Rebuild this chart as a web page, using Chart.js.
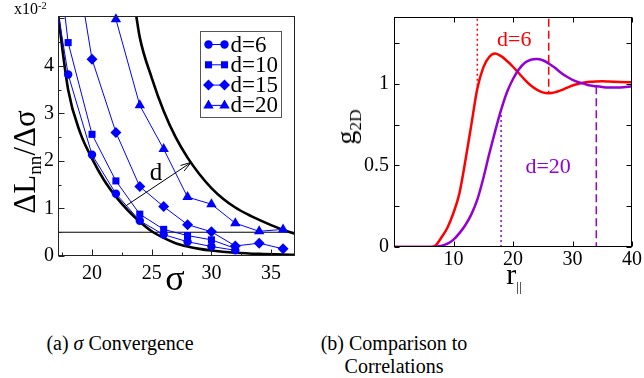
<!DOCTYPE html>
<html>
<head>
<meta charset="utf-8">
<script src="https://cdn.jsdelivr.net/npm/chart.js@4.4.1/dist/chart.umd.min.js"></script>
<style>
  body { margin: 0; background: #fff; }
  #wrap { position: relative; width: 644px; height: 378px; overflow: hidden;
          font-family: "Liberation Serif", "Times New Roman", "DejaVu Serif", serif; color: #000; }
  canvas { position: absolute; top: 0; }
  .lbl { position: absolute; white-space: nowrap; line-height: 1; }
  .rot { transform: translate(-50%, -50%) rotate(-90deg); }
  .ctr { transform: translate(-50%, -50%); }
  .lbl sub { font-size: 0.62em; position: relative; top: 0.32em; vertical-align: baseline; }
  .lbl sup { font-size: 0.65em; position: relative; top: -0.45em; vertical-align: baseline; }
  .cap { position: absolute; font-size: 20px; line-height: 23px; text-align: center; }
</style>
</head>
<body>
<div id="wrap">
  <canvas id="conv" width="320" height="300" style="left:0"></canvas>
  <canvas id="corr" width="324" height="300" style="left:320px"></canvas>

  <div class="lbl rot" style="left:24px;top:162px;font-size:31px">ΔL<sub>nn</sub>/Δσ</div>
  <div class="lbl" style="left:14px;top:1px;font-size:16px">x10<sup>-2</sup></div>
  <div class="lbl ctr" style="left:175px;top:278px;font-size:36px">σ</div>

  <div class="lbl rot" style="left:346px;top:127px;font-size:28px">g<sub>2D</sub></div>
  <div class="lbl ctr" style="left:514px;top:274px;font-size:30px">r<sub style="font-size:0.45em;top:0.5em">||</sub></div>

  <div class="cap" style="left:0px;top:332px;width:240px">(a) <i>σ</i> Convergence</div>
  <div class="cap" style="left:274px;top:332px;width:240px">(b) Comparison to<br>Correlations</div>
</div>

<script>
// ---- (a) sigma convergence -------------------------------------------------
const sigmaD6 = [16, 18, 20, 22, 24, 26, 28, 30, 32];
const convD6 = [6.9, 3.82, 2.13, 1.31, 0.74, 0.45, 0.3, 0.2, 0.12];
const sigmaD10 = [16, 18, 20, 22, 24, 26, 28, 30, 32];
const convD10 = [8.8, 4.49, 2.56, 1.58, 0.88, 0.56, 0.43, 0.34, 0.16];
const sigmaD15 = [18, 20, 22, 24, 26, 28, 30, 32, 34, 36];
const convD15 = [7.2, 4.14, 2.6, 1.46, 1.04, 0.66, 0.51, 0.21, 0.27, 0.15];
const sigmaD20 = [22, 24, 26, 28, 30, 32, 34, 36];
const convD20 = [4.98, 3.17, 2.25, 1.24, 1.09, 0.69, 0.52, 0.56];

// black envelope curves
const lowerSigma = [17, 18, 19, 20, 21, 22, 23, 24, 25, 26, 27, 28, 29, 30, 32, 34, 37];
const lowerConv = [5.4, 3.5, 2.6, 2.05, 1.6, 1.25, 0.96, 0.72, 0.52, 0.38, 0.27, 0.2, 0.15, 0.115, 0.07, 0.045, 0.025];
const upperSigma = [23.5, 24, 25, 26, 27, 28, 29, 30, 31, 32, 33, 34, 35, 36, 37];
const upperConv = [5.4, 4.6, 3.75, 3.05, 2.5, 2.07, 1.72, 1.43, 1.2, 1.02, 0.88, 0.76, 0.65, 0.55, 0.47];
const threshold = 0.5;
const arrowFrom = [22.8, 1.05];
const arrowTo = [28.3, 1.97];
const arrowLabel = { text: "d", x: 25.35, y: 1.74 };

const convXRange = [17.15, 37];
const convYRange = [0, 5.05];
const convXTicks = [20, 25, 30, 35];
const convXMinor = [17.5, 22.5, 27.5, 32.5];
const convYTicks = [0, 1, 2, 3, 4];
const convYMinor = [0.5, 1.5, 2.5, 3.5, 4.5];
const legendLabels = ["d=6", "d=10", "d=15", "d=20"];

// ---- (b) correlations ------------------------------------------------------
const rGrid = [0, 2, 4, 6, 7, 8, 9, 10, 11, 12, 13, 14, 15, 16, 17, 18, 19, 20, 21, 22, 23,
  24, 25, 26, 27, 28, 29, 30, 31, 32, 33, 34, 35, 36, 38, 40];
const gD6 = [0, 0, 0, 0, 0.01, 0.06, 0.12, 0.21, 0.33, 0.53, 0.75, 0.97, 1.1, 1.165, 1.186,
  1.17, 1.14, 1.105, 1.065, 1.025, 0.99, 0.965, 0.948, 0.943, 0.948, 0.96, 0.975, 0.99, 1.0,
  1.008, 1.013, 1.015, 1.016, 1.015, 1.012, 1.01];
const gD20 = [0, 0, 0, 0, 0.002, 0.008, 0.02, 0.045, 0.085, 0.135, 0.2, 0.29, 0.42, 0.57,
  0.71, 0.84, 0.95, 1.03, 1.09, 1.13, 1.148, 1.153, 1.145, 1.125, 1.1, 1.07, 1.045, 1.025,
  1.01, 1.0, 0.99, 0.985, 0.981, 0.978, 0.978, 0.985];
// vertical markers: [r, from, to]
const d6Dotted = [14, 1.4, 0.97];
const d6Dashed = [26, 1.4, 0.943];
const d20Dotted = [18, 0.84, 0];
const d20Dashed = [34, 0.985, 0];
const corrLabels = [
  { text: "d=6", x: 20.2, y: 1.265, color: "#ff0000" },
  { text: "d=20", x: 25.9, y: 0.49, color: "#9400d3" },
];
const corrXRange = [0, 40];
const corrYRange = [0, 1.41];
const corrXTicks = [10, 20, 30, 40];
const corrYTicks = [0, 0.5, 1];
const corrYMinor = [0.25, 0.75, 1.25];

const BLUE = "#0000ff", RED = "#ff0000", PURPLE = "#9400d3";
const SERIF = "'Liberation Serif', 'Times New Roman', 'DejaVu Serif', serif";

const pts = (xs, ys) => xs.map((x, i) => ({ x, y: ys[i] }));
const vline = (m) => [{ x: m[0], y: m[1] }, { x: m[0], y: m[2] }];

// inward ticks + frame
const frame = {
  id: "frame",
  afterDatasetsDraw(chart, args, o) {
    const { ctx, chartArea: a, scales: { x, y } } = chart;
    ctx.save();
    ctx.strokeStyle = o.color || "#000";
    ctx.lineWidth = 1;
    const l = Math.round(a.left) + 0.5, r = Math.round(a.right) - 0.5;
    const t = Math.round(a.top) + 0.5, b = Math.round(a.bottom) - 0.5;
    ctx.beginPath();
    const xt = (v, len) => {
      const px = Math.round(x.getPixelForValue(v)) + 0.5;
      ctx.moveTo(px, b); ctx.lineTo(px, b - len);
      if (o.mirror) { ctx.moveTo(px, t); ctx.lineTo(px, t + len); }
    };
    const yt = (v, len) => {
      const py = Math.round(y.getPixelForValue(v)) + 0.5;
      ctx.moveTo(l, py); ctx.lineTo(l + len, py);
      if (o.mirror) { ctx.moveTo(r, py); ctx.lineTo(r - len, py); }
    };
    o.xMajor.forEach((v) => xt(v, o.major));
    (o.xMinor || []).forEach((v) => xt(v, o.minor));
    o.yMajor.forEach((v) => yt(v, o.major));
    (o.yMinor || []).forEach((v) => yt(v, o.minor));
    ctx.stroke();
    ctx.strokeRect(l, t, r - l, b - t);
    ctx.restore();
  },
};

function fixedAxes(xr, yr, xt, yt, yw, xh, pad) {
  return {
    x: {
      type: "linear", min: xr[0], max: xr[1],
      grid: { display: false, drawTicks: false }, border: { display: false },
      afterBuildTicks: (s) => { s.ticks = xt.map((v) => ({ value: v })); },
      afterFit: (s) => { s.height = xh; },
      ticks: { color: "#000", padding: pad.x, maxRotation: 0, font: { family: SERIF, size: 20 },
               callback: (v) => String(v) },
    },
    y: {
      type: "linear", min: yr[0], max: yr[1],
      grid: { display: false, drawTicks: false }, border: { display: false },
      afterBuildTicks: (s) => { s.ticks = yt.map((v) => ({ value: v })); },
      afterFit: (s) => { s.width = yw; },
      ticks: { color: "#000", padding: pad.y, font: { family: SERIF, size: 20 },
               callback: (v) => String(v) },
    },
  };
}

// ---- chart (a)
const markerStyles = ["circle", "rect", "rectRot", "triangle"];
const markerSizes = [4.2, 5, 5.5, 6];
const series = [
  [sigmaD6, convD6], [sigmaD10, convD10], [sigmaD15, convD15], [sigmaD20, convD20],
];

const convDecor = {
  id: "convDecor",
  afterDatasetsDraw(chart) {
    const { ctx, chartArea: a, scales: { x, y } } = chart;
    ctx.save();
    // arrow
    const x0 = x.getPixelForValue(arrowFrom[0]), y0 = y.getPixelForValue(arrowFrom[1]);
    const x1 = x.getPixelForValue(arrowTo[0]), y1 = y.getPixelForValue(arrowTo[1]);
    const ang = Math.atan2(y1 - y0, x1 - x0);
    ctx.strokeStyle = "#000";
    ctx.lineWidth = 1;
    ctx.beginPath();
    ctx.moveTo(x0, y0); ctx.lineTo(x1, y1);
    ctx.moveTo(x1 - 11 * Math.cos(ang - 0.3), y1 - 11 * Math.sin(ang - 0.3));
    ctx.lineTo(x1, y1);
    ctx.lineTo(x1 - 11 * Math.cos(ang + 0.3), y1 - 11 * Math.sin(ang + 0.3));
    ctx.stroke();
    ctx.fillStyle = "#000";
    ctx.font = "25px " + SERIF;
    ctx.textAlign = "center";
    ctx.textBaseline = "middle";
    ctx.fillText(arrowLabel.text, x.getPixelForValue(arrowLabel.x), y.getPixelForValue(arrowLabel.y));

    // legend box
    const bl = Math.round(a.right - 95) + 0.5, bt = Math.round(a.top + 15) + 0.5;
    ctx.fillStyle = "#fff";
    ctx.fillRect(bl, bt, 81, 86);
    ctx.strokeStyle = "#555";
    ctx.strokeRect(bl, bt, 81, 86);
    ctx.font = "23px " + SERIF;
    ctx.textAlign = "left";
    legendLabels.forEach((txt, i) => {
      const ry = bt + 13 + i * 20.3;
      ctx.strokeStyle = BLUE; ctx.fillStyle = BLUE; ctx.lineWidth = 1;
      ctx.beginPath(); ctx.moveTo(bl + 8, ry); ctx.lineTo(bl + 24, ry); ctx.stroke();
      [bl + 8, bl + 24].forEach((mx) => {
        Chart.helpers.drawPoint(ctx, { pointStyle: markerStyles[i], radius: markerSizes[i], rotation: 0, borderWidth: 0 }, mx, ry);
      });
      ctx.fillStyle = "#000";
      ctx.fillText(txt, bl + 30, ry + 1);
    });
    ctx.restore();
  },
};

new Chart(document.getElementById("conv"), {
  type: "line",
  data: {
    datasets: [
      ...series.map((s, i) => ({
        data: pts(s[0], s[1]),
        borderColor: BLUE, backgroundColor: BLUE, borderWidth: 1,
        pointStyle: markerStyles[i], pointRadius: markerSizes[i], pointBorderWidth: 0,
        tension: 0,
        clip: i === 3 ? { left: 0, top: 6, right: 0, bottom: 0 } : 0,
      })),
      { data: pts(lowerSigma, lowerConv), borderColor: "#000", borderWidth: 2.6, pointRadius: 0, cubicInterpolationMode: "monotone" },
      { data: pts(upperSigma, upperConv), borderColor: "#000", borderWidth: 2.6, pointRadius: 0, cubicInterpolationMode: "monotone" },
      { data: pts(convXRange, [threshold, threshold]), borderColor: "#000", borderWidth: 1, pointRadius: 0 },
    ],
  },
  options: {
    responsive: false,
    animation: false,
    layout: { padding: { left: 0, top: 10, right: 25, bottom: 0 } },
    plugins: {
      legend: { display: false }, tooltip: { enabled: false },
      frame: { xMajor: convXTicks, xMinor: convXMinor, yMajor: convYTicks.concat([5]), yMinor: convYMinor, major: 6, minor: 3, mirror: false, color: "#222" },
    },
    scales: fixedAxes(convXRange, convYRange, convXTicks, convYTicks, 58, 44, { x: 6, y: 4 }),
  },
  plugins: [frame, convDecor],
});

// ---- chart (b)
const corrDecor = {
  id: "corrDecor",
  afterDatasetsDraw(chart) {
    const { ctx, scales: { x, y } } = chart;
    ctx.save();
    ctx.font = "22px " + SERIF;
    ctx.textAlign = "center";
    ctx.textBaseline = "middle";
    corrLabels.forEach((lb) => {
      ctx.fillStyle = lb.color;
      ctx.fillText(lb.text, x.getPixelForValue(lb.x), y.getPixelForValue(lb.y));
    });
    ctx.restore();
  },
};

new Chart(document.getElementById("corr"), {
  type: "line",
  data: {
    datasets: [
      { data: vline(d6Dotted), borderColor: RED, borderWidth: 1.5, borderDash: [2, 3], pointRadius: 0 },
      { data: vline(d6Dashed), borderColor: RED, borderWidth: 1.5, borderDash: [8, 4], pointRadius: 0 },
      { data: vline(d20Dotted), borderColor: PURPLE, borderWidth: 1.5, borderDash: [2, 3], pointRadius: 0 },
      { data: vline(d20Dashed), borderColor: PURPLE, borderWidth: 1.5, borderDash: [8, 4], pointRadius: 0 },
      { data: pts(rGrid, gD20), borderColor: PURPLE, borderWidth: 2.5, pointRadius: 0, cubicInterpolationMode: "monotone" },
      { data: pts(rGrid, gD6), borderColor: RED, borderWidth: 2.5, pointRadius: 0, cubicInterpolationMode: "monotone" },
    ],
  },
  options: {
    responsive: false,
    animation: false,
    layout: { padding: { left: 0, top: 7, right: 12, bottom: 0 } },
    plugins: {
      legend: { display: false }, tooltip: { enabled: false },
      frame: { xMajor: corrXTicks, yMajor: corrYTicks, yMinor: corrYMinor, major: 5, minor: 5, mirror: true, color: "#000" },
    },
    scales: fixedAxes(corrXRange, corrYRange, corrXTicks, corrYTicks, 74, 53, { x: 1, y: 5 }),
  },
  plugins: [frame, corrDecor],
});
</script>
</body>
</html>
